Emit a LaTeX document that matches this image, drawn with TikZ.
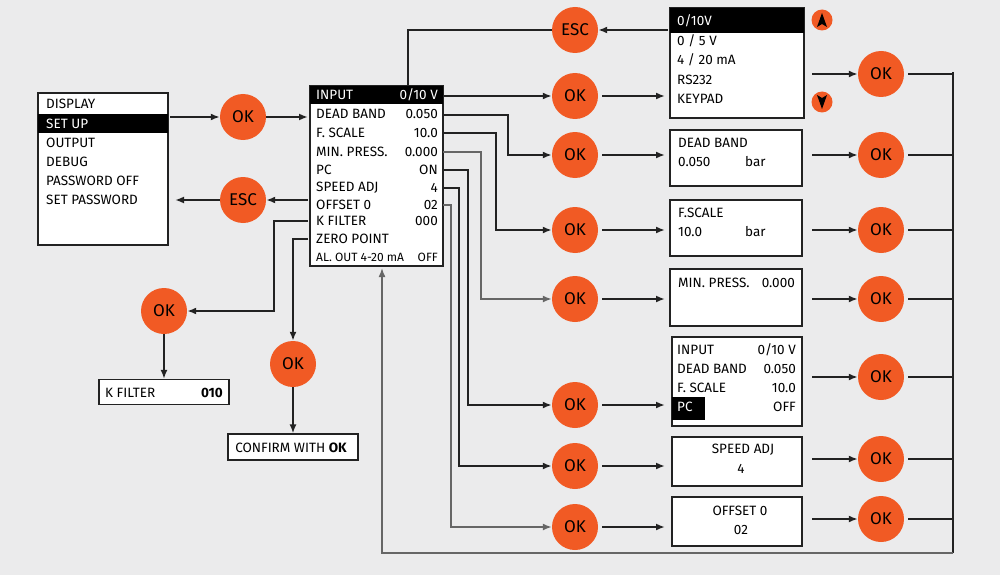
\documentclass[tikz,border=0pt]{standalone}
\usepackage{fontspec}
\setmainfont{Fira Sans}
\usetikzlibrary{arrows.meta}
\definecolor{bg}{HTML}{EBEBEC}
\definecolor{org}{HTML}{F15A24}
\definecolor{ln}{HTML}{222222}
\definecolor{gl}{HTML}{666666}
\begin{document}
\begin{tikzpicture}[x=1pt,y=-1pt,
  btn/.style={circle,fill=org,minimum size=46pt,inner sep=0pt,font=\fontsize{17}{17}\selectfont},
  sbtn/.style={circle,fill=org,minimum size=21pt,inner sep=0pt},
  panel/.style={draw=ln,fill=white,line width=1.2pt},
  t/.style={anchor=west,inner sep=0pt,font=\fontsize{13.5}{13.5}\selectfont},
  tr/.style={anchor=east,inner sep=0pt,font=\fontsize{13.5}{13.5}\selectfont},
  tc/.style={anchor=center,inner sep=0pt,font=\fontsize{13.5}{13.5}\selectfont},
  arr/.style={draw=ln,line width=1.9pt,-{Latex[length=9pt,width=7pt]}},
  arg/.style={draw=gl,line width=1.6pt,-{Latex[length=9pt,width=7pt]}},
  wire/.style={draw=ln,line width=1.6pt},
  wireg/.style={draw=gl,line width=1.6pt}]
\fill[bg] (0,0) rectangle (1000,575);
\useasboundingbox (0,0) rectangle (1000,575);
% left menu
\draw[panel] (38,93) rectangle (168,245);
\fill[black] (38,114) rectangle (168,133);
\node[t] at (46,104) {DISPLAY};
\node[t,white] at (46,124) {SET UP};
\node[t] at (46,143) {OUTPUT};
\node[t] at (46,162) {DEBUG};
\node[t] at (46,181) {PASSWORD OFF};
\node[t] at (46,200) {SET PASSWORD};
\coordinate (menuR) at (170,117);
\coordinate (menuE) at (175,200);
% main box
\draw[panel] (310,86) rectangle (443,266);
\fill[black] (310,86) rectangle (443,104);
\node[t,white] at (316,95) {INPUT}; \node[tr,white] at (438,95) {0/10 V};
\node[t] at (316,114) {DEAD BAND}; \node[tr] at (438,114) {0.050};
\node[t] at (316,133) {F. SCALE}; \node[tr] at (438,133) {10.0};
\node[t] at (316,152) {MIN. PRESS.}; \node[tr] at (438,152) {0.000};
\node[t] at (316,170) {PC}; \node[tr] at (438,170) {ON};
\node[t] at (316,188) {SPEED ADJ}; \node[tr] at (438,188) {4};
\node[t] at (316,205) {OFFSET 0}; \node[tr] at (438,205) {02};
\node[t] at (316,221) {K FILTER}; \node[tr] at (438,221) {000};
\node[t] at (316,239) {ZERO POINT};
\node[t,font=\fontsize{12}{12}\selectfont] at (316,257) {AL. OUT 4-20 mA}; \node[tr,font=\fontsize{12}{12}\selectfont] at (438,257) {OFF};
% left buttons
\node[btn] (ok1) at (243,117) {OK};
\node[btn] (esc1) at (243,200) {ESC};
\draw[arr] (menuR) -- (ok1);
\draw[arr] (ok1) -- (308,117);
\draw[arr] (308,200) -- (esc1);
\draw[arr] (esc1) -- (menuE);
% K filter & zero point
\node[btn] (okk) at (164,311) {OK};
\node[btn] (okz) at (293,364) {OK};
\node[panel,minimum width=130pt,minimum height=25pt,inner sep=0pt] (kf) at (164,392) {};
\node[t] at (105,393) {K FILTER}; \node[tr] at (223,393) {\bfseries 010};
\node[panel,minimum width=130pt,minimum height=26pt,inner sep=0pt] (cf) at (293,447) {};
\node[tc] at (291,448) {CONFIRM WITH \bfseries OK};
\draw[arr] (308,221) -- (274,221) |- (okk);
\draw[arr] (okk) -- (kf);
\draw[arr] (308,239) -- (293,239) -- (okz);
\draw[arr] (okz) -- (cf);
% top ESC + input options
\node[btn] (esc2) at (575,30) {ESC};
\draw[wire] (408,86) |- (esc2);
\draw[panel] (670,8) rectangle (804,118);
\fill[black] (670,8) rectangle (804,33);
\node[t,white] at (677,21) {0/10V};
\node[t] at (677,41) {0 / 5 V};
\node[t] at (677,60) {4 / 20 mA};
\node[t] at (677,80) {RS232};
\node[t] at (677,99) {KEYPAD};
\coordinate (optL) at (668,30);
\draw[arr] (optL) -- (esc2);
\node[sbtn] (up) at (822,20) {};
\node[sbtn] (dn) at (822,102) {};
\fill[black] (822,13)--(817,27)--(822,24)--(827,27)--cycle;
\fill[black] (822,109)--(817,95)--(822,98)--(827,95)--cycle;
% middle OK column
\foreach \n/\y in {a/96,b/155,c/230,d/299,e/405,f/466,g/527}{
  \node[btn] (m\n) at (575,\y) {OK};
  \draw[arr] (m\n) ++(27,0) -- (665,\y);
}
\foreach \n/\y in {a/74,b/155,c/230,d/299,e/377,f/459,g/519}{
  \node[btn] (r\n) at (881,\y) {OK};
  \draw[wire] (r\n.east) ++(4,0) -- (953,\y);
  \draw[arr] (812,\y) -- (r\n);
}
\draw[arr] (443,96) -- (ma);
\draw[arr] (443,115) -- (508,115) |- (mb);
\draw[arr] (443,133) -- (496,133) |- (mc);
\draw[arg] (443,152) -- (481,152) |- (md);
\draw[arr] (443,170) -- (468,170) |- (me);
\draw[arr] (443,188) -- (459,188) |- (mf);
\draw[arg] (443,205) -- (451,205) |- (mg);
% right boxes
\draw[panel] (670,130) rectangle (802,186);
\node[t] at (678,143) {DEAD BAND};
\node[t] at (678,162) {0.050}; \node[t] at (745,162) {bar};
\draw[panel] (670,200) rectangle (802,256);
\node[t] at (678,213) {F.SCALE};
\node[t] at (678,232) {10.0}; \node[t] at (745,232) {bar};
\draw[panel] (670,269) rectangle (802,326);
\node[t] at (678,283) {MIN. PRESS.}; \node[tr] at (795,283) {0.000};
\draw[panel] (672,337) rectangle (802,426);
\node[t] at (677,350) {INPUT}; \node[tr] at (796,350) {0/10 V};
\node[t] at (677,369) {DEAD BAND}; \node[tr] at (796,369) {0.050};
\node[t] at (677,388) {F. SCALE}; \node[tr] at (796,388) {10.0};
\fill[black] (672,397) rectangle (705,420);
\node[t,white] at (677,407) {PC}; \node[tr] at (796,407) {OFF};
\draw[panel] (672,437) rectangle (802,486);
\node[tc] at (743,450) {SPEED ADJ}; \node[tc] at (741,469) {4};
\draw[panel] (672,497) rectangle (802,546);
\node[tc] at (740,511) {OFFSET 0}; \node[tc] at (741,530) {02};
% return loop
\coordinate (mainB) at (382,268);
\draw[wire] (953,72) -- (953,553);
\draw[arg] (953,553) -- (382,553) -- (mainB);
\end{tikzpicture}
\end{document}
